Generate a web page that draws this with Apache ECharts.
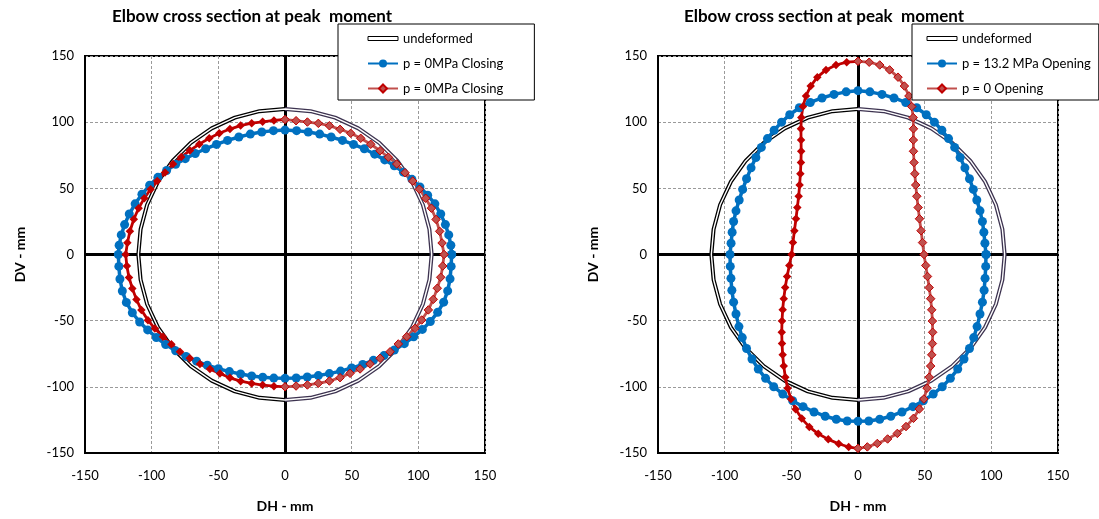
<!DOCTYPE html>
<html>
<head>
<meta charset="utf-8">
<script src="https://cdn.jsdelivr.net/npm/echarts@6/dist/echarts.min.js"></script>
<style>
  html, body { margin: 0; padding: 0; background: #fff; }
  #wrap { position: relative; width: 1099px; height: 519px; }
  #left { position: absolute; left: 0; top: 0; width: 549px; height: 519px; }
  #right { position: absolute; left: 549px; top: 0; width: 550px; height: 519px; }
</style>
</head>
<body>
<div id="wrap"><div id="left"></div><div id="right"></div></div>
<script>
const titleText = 'Elbow cross section at peak  moment';
const xName = 'DH - mm';
const yName = 'DV - mm';
const axisMin = -150;
const axisMax = 150;
const axisStep = 50;

const legendLeft = ['undeformed', 'p = 0MPa Closing', 'p = 0MPa Closing'];
const legendRight = ['undeformed', 'p = 13.2 MPa Opening', 'p = 0 Opening'];

// undeformed section (same in both plots), right and left halves
const circleRight = [[0,-110],[19.1,-108.3],[37.6,-103.4],[55,-95.3],[70.7,-84.3],[84.3,-70.7],[95.3,-55],[103.4,-37.6],[108.3,-19.1],[110,0],
  [108.3,19.1],[103.4,37.6],[95.3,55],[84.3,70.7],[70.7,84.3],[55,95.3],[37.6,103.4],[19.1,108.3],[0,110]];
const circleLeft = [[0,110],[-19.1,108.3],[-37.6,103.4],[-55,95.3],[-70.7,84.3],[-84.3,70.7],[-95.3,55],[-103.4,37.6],[-108.3,19.1],[-110,0],
  [-108.3,-19.1],[-103.4,-37.6],[-95.3,-55],[-84.3,-70.7],[-70.7,-84.3],[-55,-95.3],[-37.6,-103.4],[-19.1,-108.3],[0,-110]];

// left plot: closing
const closingBlue = [[125,0],[124.4,7],[122.8,14.8],[120.3,22.6],[116.8,30.6],[112.4,38.3],[107,44.8],[101.2,51],[95.2,56.8],[88.8,62.2],
  [82,67],[74.8,71.5],[67.3,75.8],[59.5,79.9],[51.4,83.2],[43.1,86.2],[34.6,88.8],[26,91],[17.4,92.6],[8.7,93.6],[0,94],
  [-8.7,93.6],[-17.4,92.6],[-26,91],[-34.6,88.8],[-43.1,86.2],[-51.4,83.2],[-59.5,79.9],[-67.3,76.3],[-74.8,72.4],[-82,68.2],
  [-88.8,63.5],[-95.3,58.3],[-101.5,52.3],[-107.3,45.6],[-112.4,38.3],[-116.8,30.6],[-120.3,22.6],[-122.8,14.8],[-124.4,7],[-125,0],
  [-124.6,-9],[-123.8,-18.5],[-122,-27.6],[-119,-36.2],[-114.5,-44],[-109,-51],[-103,-57],[-96.5,-62.7],[-89.5,-68],[-82,-72.8],
  [-74.2,-77],[-66.3,-80.6],[-58.3,-83.7],[-50,-86.3],[-41.7,-88.5],[-33.3,-90.3],[-25,-91.8],[-16.7,-92.8],[-8.4,-93.4],[0,-93.6],
  [8.4,-93.3],[16.7,-92.6],[25,-91.5],[33.3,-90],[41.7,-88.1],[50,-85.8],[58.3,-83.1],[66.3,-80],[74.2,-76.4],[82,-72.2],
  [89.5,-67.4],[96.5,-62.2],[103,-56.6],[109,-50.6],[114.5,-43.7],[119,-36],[122,-27.5],[123.8,-18.4],[124.6,-9],[125,0]];
const closingRedRight = [[0,-100],[8.3,-99.4],[16.8,-98.6],[25,-97.3],[33.3,-95.6],[41.3,-93.1],[48.8,-89.8],[56.3,-86.5],[63.8,-82.7],[71.3,-78.4],
  [78.8,-73.5],[85,-67.6],[91.3,-62.1],[97.5,-55.8],[102.5,-49.5],[107.5,-41.9],[111.2,-33.9],[114.2,-25.5],[116.8,-17.2],[118.3,-8.7],[119.3,0],
  [117.8,8.7],[116,17.5],[113.3,26.5],[109.8,35],[105.5,42.5],[100.8,49.3],[95.8,55.5],[90,61.8],[83.8,68.4],[77.5,73.5],
  [71.3,78.4],[64.3,83.3],[56.8,87.8],[49.3,91.6],[41.3,94.6],[33.3,97.3],[25,99.1],[16.8,100.1],[8.3,101.1],[0,102]];
const closingRedLeft = [[0,102],[-8.3,101.3],[-16.8,100.3],[-25,99.2],[-33.3,97.4],[-41.3,94.8],[-49.3,91.6],[-56.8,87.9],[-64.3,83.4],[-71.3,78.6],
  [-77.8,73.6],[-84,68.3],[-90,62],[-95.8,55.6],[-100.8,49.3],[-105.5,42.6],[-109.8,35],[-113.4,26.6],[-116.3,17.6],[-118.2,8.8],[-119.5,0],
  [-118.6,-8.7],[-117,-17.3],[-114.5,-25.6],[-111.4,-34],[-107.7,-42],[-102.8,-49.6],[-97.6,-56],[-91.5,-62.2],[-85.2,-67.8],[-78.8,-73.4],
  [-71.4,-78.4],[-63.8,-82.8],[-56.3,-86.6],[-48.8,-89.9],[-41.3,-93.2],[-33.3,-95.7],[-25,-97.4],[-16.8,-98.7],[-8.3,-99.5],[0,-100]];

// right plot: opening
const openingBlue = [[96,0],[95.2,8.5],[94.4,16.8],[93.3,24.9],[91.5,33],[89.1,41.2],[86.5,49.2],[83.6,57.2],[80.2,65.5],[76.6,73.3],
  [72.5,80.9],[67.9,87.6],[62.9,93.9],[57.3,100],[51.2,105.6],[44,110.9],[35.8,114.9],[27,118.3],[18,121],[8.9,122.9],[0,123.8],
  [-8.9,122.9],[-18,121],[-27,118.3],[-35.8,114.9],[-44,110.9],[-51.2,105.6],[-57.3,100],[-62.9,93.9],[-67.9,87.6],[-72.5,80.9],
  [-76.6,73.3],[-80.2,65.5],[-83.6,57.2],[-86.5,49.2],[-89.1,41.2],[-91.5,33],[-93.3,24.9],[-94.4,16.8],[-95.2,8.5],[-96,0],
  [-95.8,-9],[-95.3,-18],[-94.6,-27],[-93.3,-36],[-91.5,-45],[-89.3,-54.5],[-86.8,-62.8],[-83.6,-71],[-79.5,-79],[-74.8,-86.6],
  [-69.3,-93.6],[-63.2,-99.9],[-56.4,-105.5],[-49,-110.5],[-41.2,-115],[-33,-119],[-24.6,-122.2],[-16.3,-124.5],[-8.1,-125.8],[0,-126],
  [8.1,-125.8],[16.3,-124.5],[24.6,-122.2],[33,-119],[41.2,-115],[49,-110.5],[56.4,-105.5],[63.2,-99.9],[69.3,-93.6],[74.8,-86.6],
  [79.5,-79],[83.6,-71],[86.8,-62.8],[89.3,-54.5],[91.5,-45],[93.3,-36],[94.6,-27],[95.3,-18],[95.8,-9],[96,0]];
const openingRedRight = [[0,-146.5],[7,-145.4],[14.5,-142.8],[22.2,-139.4],[29.5,-135.2],[36,-130],[41.6,-123.8],[46,-116.8],[49.4,-109.2],[51.8,-101],
  [53.4,-92.7],[54.5,-84.3],[55.3,-75.8],[55.8,-67.3],[56,-58.8],[55.8,-50.3],[55.3,-41.8],[54.5,-33.4],[53.4,-25],[52.1,-16.6],[50.8,-8.3],[49.5,0],
  [48.4,9],[47.3,18],[46.1,27],[45.1,35.5],[44.1,44],[43.3,52.5],[42.6,61],[42,69.5],[41.6,78],[41.5,86.5],
  [41.6,95],[41.4,103.5],[40.3,111.8],[38.2,119.8],[34.8,127.3],[30,134],[23.7,139.5],[16.3,143.2],[8.4,145.3],[0,146]];
const openingRedLeft = [[0,146],[-8.5,145.3],[-16.5,143.2],[-24,139.5],[-30.5,134],[-35.5,127.3],[-39,119.8],[-41.3,111.8],[-42.5,103.5],[-42.8,95],
  [-42.7,86.5],[-42.6,78],[-42.8,69.5],[-43.2,61],[-43.8,52.5],[-44.5,44],[-45.5,35.5],[-46.5,27],[-47.7,18],[-48.8,9],[-49.8,0],
  [-51.5,-8.3],[-53.2,-16.6],[-54.6,-25],[-55.7,-33.4],[-56.5,-41.8],[-57,-50.3],[-57.2,-58.8],[-57,-67.3],[-56.5,-75.8],[-55.7,-84.3],
  [-54.5,-92.7],[-52.8,-101],[-50.3,-109.2],[-46.8,-116.9],[-42.2,-124],[-36.5,-130.3],[-29.8,-135.5],[-22.3,-139.7],[-14.5,-143],[-7,-145.5],[0,-146.5]];

const FONT = 'Lato, "Liberation Sans", sans-serif';

function makeOption(cfg) {
  const axisBase = {
    type: 'value',
    min: axisMin,
    max: axisMax,
    interval: axisStep,
    nameLocation: 'middle',
    nameTextStyle: { fontFamily: FONT, fontWeight: 'bold', fontSize: 14, color: '#000' },
    axisLine: { onZero: false, lineStyle: { color: '#000', width: 2 } },
    axisTick: { show: false },
    splitLine: { lineStyle: { color: '#9a9a9a', width: 1, type: [3, 2] } },
  };
  const line = (name, data, color, width, extra) => Object.assign({
    name,
    type: 'line',
    data,
    symbol: 'none',
    silent: true,
    lineStyle: { color, width },
    itemStyle: { color },
  }, extra);
  const legendIdx = { undef: 0, blue: 1, redR: 2 };

  return {
    animation: false,
    title: {
      text: titleText,
      left: cfg.titleX,
      top: 3,
      textAlign: 'center',
      textStyle: { fontFamily: FONT, fontWeight: 'bold', fontSize: 17, color: '#000' },
    },
    legend: {
      left: cfg.legendX,
      top: 24,
      orient: 'vertical',
      data: [
        { name: 'undef', icon: 'path://M0,0H30V4H0Z', itemStyle: { color: '#fff', borderColor: '#000', borderWidth: 1 } },
        'blue',
        'redR',
      ],
      formatter: n => cfg.labels[legendIdx[n]],
      itemWidth: 30,
      itemHeight: 10,
      itemGap: 12,
      padding: cfg.legendPad,
      borderColor: '#000',
      borderWidth: 1,
      backgroundColor: '#fff',
      selectedMode: false,
      textStyle: { fontFamily: FONT, fontSize: 13, color: '#000' },
    },
    grid: {
      left: cfg.gridLeft, top: 56, width: 400, height: 397,
      show: true, borderColor: '#000', borderWidth: 2, backgroundColor: 'transparent',
    },
    xAxis: Object.assign({}, axisBase, {
      name: xName, nameGap: 46,
      axisLabel: { fontFamily: FONT, fontSize: 13, color: '#000', margin: 16 },
    }),
    yAxis: Object.assign({}, axisBase, {
      name: yName, nameGap: 58,
      axisLabel: { fontFamily: FONT, fontSize: 13, color: '#000', margin: 11 },
    }),
    series: [
      line('undef', circleLeft, '#000', 4, {
        markLine: {
          silent: true, z: 1, animation: false,
          symbol: ['none', 'none'],
          label: { show: false },
          lineStyle: { color: '#000', width: 3, type: 'solid' },
          data: [{ xAxis: 0 }, { yAxis: 0 }],
        },
      }),
      line('undefR', circleRight, '#3d3350', 4),
      line('undefInner', circleRight.concat(circleLeft.slice(1)), '#fff', 1.4),
      line('blue', cfg.blue, '#0070C0', 3.5, { symbol: 'circle', symbolSize: 9 }),
      line('redL', cfg.redL, '#C00000', 2.8, { symbol: 'diamond', symbolSize: 8.5 }),
      line('redR', cfg.redR, '#C0504D', 2.8, {
        symbol: 'diamond', symbolSize: 8.5,
        itemStyle: { color: '#C0504D', borderColor: '#C00000', borderWidth: 1 },
      }),
    ],
  };
}

const leftChart = echarts.init(document.getElementById('left'));
leftChart.setOption(makeOption({
  titleX: 247, legendX: 338, legendPad: [8, 31, 5, 29], gridLeft: 85,
  labels: legendLeft, blue: closingBlue, redL: closingRedLeft, redR: closingRedRight,
}));

const rightChart = echarts.init(document.getElementById('right'));
rightChart.setOption(makeOption({
  titleX: 270, legendX: 363, legendPad: [8, 8, 5, 14], gridLeft: 109,
  labels: legendRight, blue: openingBlue, redL: openingRedLeft, redR: openingRedRight,
}));

window.addEventListener('resize', () => { leftChart.resize(); rightChart.resize(); });
</script>
</body>
</html>
